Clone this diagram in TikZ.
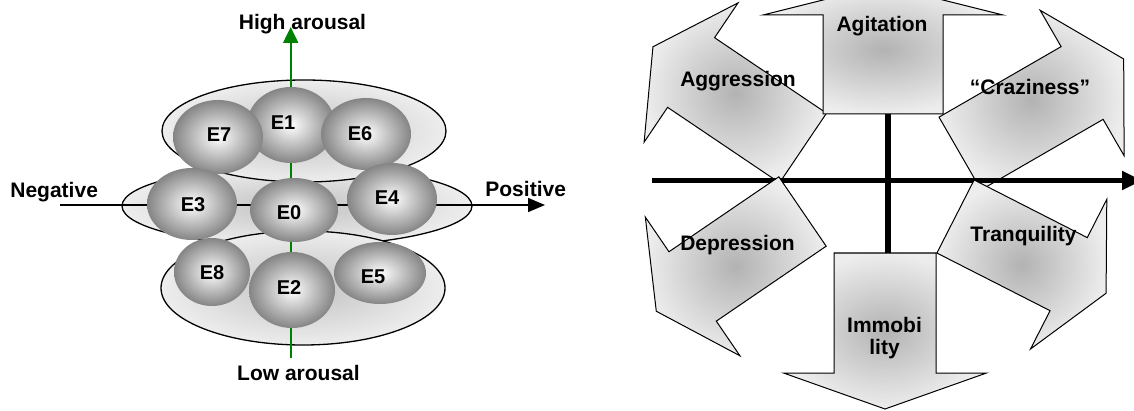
\documentclass[tikz,border=0pt]{standalone}
\usepackage{fontspec}
\setmainfont{Liberation Sans}
\usetikzlibrary{arrows.meta,shapes.geometric}
\newcommand\blockarr[7]{%
  \begin{scope}[shift={(#1,#2)}, rotate=#3]
    \path[blk] (0,-#5) -- (#4,-#5) -- (#4,-#6) -- ({#4+#7},0) -- (#4,#6) -- (#4,#5) -- (0,#5) -- cycle;
  \end{scope}}
\begin{document}
\begin{tikzpicture}[x=0.5pt,y=-0.5pt,
  lbl/.style={font=\fontsize{10.5}{11}\selectfont\bfseries, inner sep=0pt},
  elbl/.style={font=\fontsize{10}{11}\selectfont\bfseries, inner sep=0pt},
  disc/.style={ellipse, draw=black, line width=0.65pt, inner sep=0pt, inner color=black!24, outer color=black!7},
  sphere/.style={ellipse, inner sep=0pt, inner color=white, outer color=black!48},
  axis/.style={line width=0.8pt, -{Triangle[length=8.5pt,width=7pt]}},
  gaxis/.style={draw=green!50!black, line width=1pt, -{Triangle[length=8pt,width=7.5pt]}},
  blk/.style={draw=black, line width=0.5pt, inner color=black!30, outer color=black!7},
  bigaxis/.style={line width=2.6pt}]
\useasboundingbox (0,0) rectangle (1134,411);
\clip (0,0) rectangle (1134,411);

% ---------- left diagram ----------
\node[disc, minimum width=175pt, minimum height=40pt] (mid) at (297,206) {};
\node[disc, minimum width=142pt, minimum height=51pt] (top) at (304,131) {};
\node[disc, minimum width=142pt, minimum height=57pt] (bot) at (303,288) {};

\coordinate (hL) at (60,205);
\coordinate (hR) at (545,205);
\coordinate (vB) at (290.7,358);
\coordinate (vT) at (290.7,27);
\draw[axis] (hL) -- (hR);
\draw[gaxis] (vB) -- (vT);

\node[sphere, minimum width=44pt, minimum height=38pt] (s1) at (291,125) {};
\node[sphere, minimum width=45pt, minimum height=37pt] (s7) at (218,137) {};
\node[sphere, minimum width=45pt, minimum height=36pt] (s6) at (366,134) {};
\node[sphere, minimum width=44pt, minimum height=32pt] (s0) at (294,210) {};
\node[sphere, minimum width=45pt, minimum height=36pt] (s3) at (192,204) {};
\node[sphere, minimum width=45pt, minimum height=36pt] (s4) at (392,199) {};
\node[sphere, minimum width=43pt, minimum height=38pt] (s2) at (292,290) {};
\node[sphere, minimum width=38pt, minimum height=34pt] (s8) at (212,272) {};
\node[sphere, minimum width=46pt, minimum height=31pt] (s5) at (380,273) {};

\node[elbl] (l7) at (219,135) {E7};
\node[elbl] (l1) at (283,123) {E1};
\node[elbl] (l6) at (360,134) {E6};
\node[elbl] (l3) at (193,205) {E3};
\node[elbl] (l0) at (289,213) {E0};
\node[elbl] (l4) at (387,198) {E4};
\node[elbl] (l8) at (212,273) {E8};
\node[elbl] (l2) at (289,288) {E2};
\node[elbl] (l5) at (373,277) {E5};

\node[lbl, anchor=base] (tHigh) at (302.5,30) {High arousal};
\node[lbl, anchor=base] (tLow) at (298.5,380) {Low arousal};
\node[lbl, anchor=base west] (tNeg) at (10,198) {Negative};
\node[lbl, anchor=base west] (tPos) at (485,197) {Positive};

% ---------- right diagram ----------
\blockarr{803}{148}{146}{135}{42}{84}{46}
\blockarr{883}{114}{90}{99}{60}{120}{30}
\blockarr{960}{153.5}{30}{141}{42}{84}{48}

\coordinate (RL) at (652,180.5);
\coordinate (RR) at (1142,180.5);
\coordinate (VT) at (888,114);
\coordinate (VB) at (888,253);
\draw[bigaxis, -{Triangle[length=10pt,width=9pt]}] (RL) -- (RR);
\draw[bigaxis] (VT) -- (VB);

\blockarr{802.5}{211.5}{214.3}{133}{42}{84}{44}
\blockarr{885}{253}{-90}{120}{51}{101.5}{36}
\blockarr{955.5}{216.5}{-27}{127}{41}{84}{42}

\node[lbl, anchor=base] (tAgit) at (882,32) {Agitation};
\node[lbl, anchor=base] (tAggr) at (738,87) {Aggression};
\node[lbl, anchor=base] (tCraz) at (1030,95) {“Craziness”};
\node[lbl, anchor=base] (tDep) at (737.5,250) {Depression};
\node[lbl, anchor=base] (tTranq) at (1023.5,242) {Tranquility};
\node[lbl, align=center] (tImm) at (884.5,338.5) {Immobi\\lity};
\end{tikzpicture}
\end{document}
